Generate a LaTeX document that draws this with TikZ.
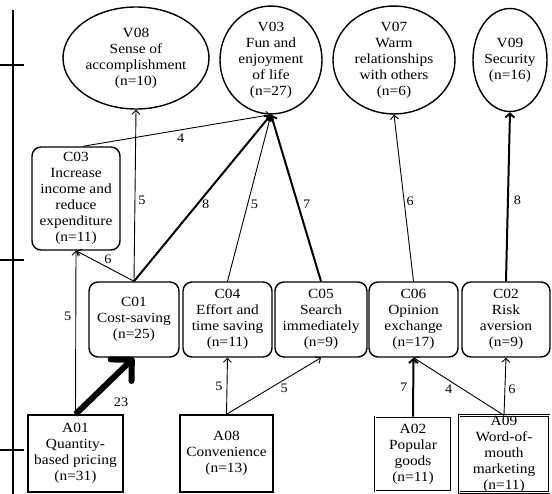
\documentclass[tikz,border=0pt]{standalone}
\usepackage{fontspec}
\setmainfont{Liberation Serif}[FakeStretch=1.1]
\usetikzlibrary{shapes.geometric,arrows.meta}
\begin{document}
\begin{tikzpicture}[x=1pt,y=-1pt,
  txt/.style={font=\fontsize{14}{16}\selectfont, align=center, inner sep=0pt},
  val/.style={txt, draw, ellipse, line width=1.4pt},
  cons/.style={txt, draw, rounded corners=9pt, line width=1.4pt},
  attr/.style={txt, draw, line width=1.4pt},
  attrd/.style={txt, draw, double, line width=0.9pt, double distance=1pt},
  lnk/.style={-{Straight Barb[length=4pt,width=8pt]}, line width=0.9pt},
  lnkb/.style={-{Straight Barb[length=4pt,width=9pt]}, line width=2pt},
  lnkh/.style={-{Straight Barb[length=15pt,width=30pt,round]}, line width=6pt},
  lab/.style={font=\fontsize{13}{15}\selectfont, inner sep=1pt},
  axis/.style={line width=1.8pt}
]
\useasboundingbox (0,0) rectangle (552,494);

% axis
\coordinate (ax1) at (13,10);
\coordinate (ax2) at (13,494);
\draw[axis] (ax1) -- (ax2);
\coordinate (t1a) at (0,65);  \coordinate (t1b) at (24,65);
\coordinate (t2a) at (0,260); \coordinate (t2b) at (24,260);
\coordinate (t3a) at (0,450); \coordinate (t3b) at (24,450);
\draw[axis] (t1a) -- (t1b);
\draw[axis] (t2a) -- (t2b);
\draw[axis] (t3a) -- (t3b);

% values
\node[val, minimum width=146pt, minimum height=102pt] (V08) at (136,58) {V08\\Sense of\\accomplishment\\(n=10)};
\node[val, minimum width=102pt, minimum height=106pt] (V03) at (271,60) {V03\\Fun and\\enjoyment\\of life\\(n=27)};
\node[val, minimum width=122pt, minimum height=104pt] (V07) at (394,60) {V07\\Warm\\relationships\\with others\\(n=6)};
\node[val, minimum width=74pt, minimum height=103pt] (V09) at (510,60) {V09\\Security\\(n=16)};

% consequences
\node[cons, minimum width=88pt, minimum height=103pt] (C03) at (76,198.5) {C03\\Increase\\income and\\reduce\\expenditure\\(n=11)};
\node[cons, minimum width=90pt, minimum height=75pt] (C01) at (134,319.5) {C01\\Cost-saving\\(n=25)};
\node[cons, minimum width=89pt, minimum height=75pt] (C04) at (227.5,319.5) {C04\\Effort and\\time saving\\(n=11)};
\node[cons, minimum width=92pt, minimum height=75pt] (C05) at (321,319.5) {C05\\Search\\immediately\\(n=9)};
\node[cons, minimum width=89pt, minimum height=75pt] (C06) at (413.5,319.5) {C06\\Opinion\\exchange\\(n=17)};
\node[cons, minimum width=88pt, minimum height=75pt] (C02) at (506,319.5) {C02\\Risk\\aversion\\(n=9)};

% attributes
\node[attr, minimum width=95pt, minimum height=77pt] (A01) at (75.5,453.5) {A01\\Quantity-\\based pricing\\(n=31)};
\node[attr, minimum width=93pt, minimum height=77pt] (A08) at (226.5,453.5) {A08\\Convenience\\(n=13)};
\node[attrd, minimum width=76pt, minimum height=74pt] (A02) at (413,454) {A02\\Popular\\goods\\(n=11)};
\node[attrd, minimum width=90pt, minimum height=74pt] (A09) at (504,454) {A09\\Word-of-\\mouth\\marketing\\(n=11)};

% links
\draw[lnk] (A01.north) -- (C03.south) node[lab, pos=0.6, left=3pt] {5};
\draw[lnkh] (A01.north) -- (C01.south) node[lab, pos=0.72, anchor=north, xshift=3.5pt, yshift=-20pt] {23};
\draw[lnk] (C01.north) -- (C03.south) node[lab, pos=0.45, above=2pt] {6};
\draw[lnk] (C01.north) -- (V08.south) node[lab, pos=0.47, right=2pt] {5};
\draw[lnkb] (C01.north) -- (V03.south) node[lab, pos=0.46, right=3pt] {8};
\draw[lnk] ([xshift=7pt]C03.north) -- (V03.south) node[lab, pos=0.52, below=3pt] {4};
\draw[lnk] (C04.north) -- (V03.south) node[lab, pos=0.46, right=2pt] {5};
\draw[lnkb] (C05.north) -- (V03.south) node[lab, pos=0.46, right=3pt] {7};
\draw[lnk] (C06.north) -- (V07.south) node[lab, pos=0.48, right=1pt] {6};
\draw[lnkb] (C02.north) -- (V09.south) node[lab, pos=0.48, right=4pt] {8};
\draw[lnk] (A08.north) -- (C04.south) node[lab, pos=0.5, left=3pt] {5};
\draw[lnk] (A08.north) -- (C05.south) node[lab, pos=0.61, below=3pt] {5};
\draw[lnkb] (A02.north) -- (C06.south) node[lab, pos=0.5, left=4pt] {7};
\draw[lnk] (A09.north) -- (C06.south) node[lab, pos=0.61, below=3pt] {4};
\draw[lnk] (A09.north) -- (C02.south) node[lab, pos=0.45, right=2pt] {6};
\end{tikzpicture}
\end{document}
